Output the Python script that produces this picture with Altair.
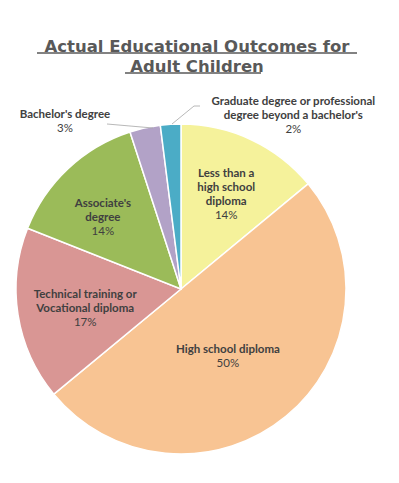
import altair as alt
import pandas as pd

categories = [
    "Less than a high school diploma",
    "High school diploma",
    "Technical training or Vocational diploma",
    "Associate's degree",
    "Bachelor's degree",
    "Graduate degree or professional degree beyond a bachelor's",
]
label_lines = [
    "Less than a\nhigh school\ndiploma",
    "High school diploma",
    "Technical training or\nVocational diploma",
    "Associate's\ndegree",
    "Bachelor's degree",
    "Graduate degree or professional\ndegree beyond a bachelor's",
]
values = [14, 50, 17, 14, 3, 2]
order = [1, 2, 3, 4, 5, 6]
colors = ["#F5F29B", "#F8C493", "#D99694", "#9BBB59", "#B2A2C7", "#4BACC6"]

df = pd.DataFrame({"category": categories, "label": label_lines,
                   "value": values, "order": order})

sc = alt.Scale(domain=[0, 100])

base = alt.Chart(df).transform_window(
    cum="sum(value)", frame=[None, 0], sort=[alt.SortField("order")]
).transform_calculate(
    start="datum.cum - datum.value",
    mid="datum.cum - datum.value / 2",
    pct="datum.value + '%'",
)

arcs = base.mark_arc(radius=165, stroke="white", strokeWidth=1.5).encode(
    theta=alt.Theta("start:Q", scale=sc),
    theta2="cum:Q",
    color=alt.Color("category:N", scale=alt.Scale(domain=categories, range=colors), legend=None),
)

TXT = "#404040"
FONT = "Lato"
FS = 11.5
LH = 14

# label placement style: radius, dx, dy (anchor = boundary between name and percent)
label_style = {
    categories[0]: (92, 6, 3),
    categories[1]: (83, -6, 4),
    categories[2]: (97, 0, 12),
    categories[3]: (101, -9, 10),
    categories[4]: (170, -79, -1),
    categories[5]: (170, 123, 4),
}

layers = [arcs]
for cat, lab, (r, dx, dy) in zip(categories, label_lines, label_style.values()):
    n = lab.count("\n") + 1
    sub = base.transform_filter(alt.datum.category == cat)
    layers.append(sub.mark_text(radius=r, dx=dx, dy=dy - n * LH + 1, baseline="top", align="center",
                                lineBreak="\n", font=FONT, fontSize=FS, fontWeight="bold",
                                color=TXT, lineHeight=LH).encode(
        theta=alt.Theta("mid:Q", scale=sc), text="label:N"))
    layers.append(sub.mark_text(radius=r, dx=dx, dy=dy + 1, baseline="top", align="center",
                                font=FONT, fontSize=FS, fontWeight="normal",
                                color=TXT).encode(
        theta=alt.Theta("mid:Q", scale=sc), text="pct:N"))

one = alt.Chart(alt.Data(values=[{}]))
# title underlines
layers.append(one.mark_rule(color="#595959", strokeWidth=1.5).encode(
    x=alt.value(29), x2=alt.value(349), y=alt.value(-55)))
layers.append(one.mark_rule(color="#595959", strokeWidth=1.5).encode(
    x=alt.value(117), x2=alt.value(253), y=alt.value(-35)))
# leader lines
layers.append(one.mark_rule(color="#A6A6A6", strokeWidth=0.8).encode(
    x=alt.value(99), x2=alt.value(145), y=alt.value(16), y2=alt.value(20)))
layers.append(one.mark_rule(color="#A6A6A6", strokeWidth=0.8).encode(
    x=alt.value(186), x2=alt.value(164), y=alt.value(-2), y2=alt.value(16)))
layers.append(one.mark_rule(color="#A6A6A6", strokeWidth=0.8).encode(
    x=alt.value(186), x2=alt.value(192), y=alt.value(-2)))

chart = alt.layer(*layers).properties(
    width=346, height=362,
    padding={"left": 0, "top": 100, "right": 37, "bottom": 0},
    autosize=alt.AutoSizeParams(type="none"),
    title=alt.TitleParams(
        text=["Actual Educational Outcomes for ", "Adult Children"],
        font="DejaVu Sans", fontSize=16.5, fontWeight="bold", color="#595959",
        anchor="middle", dx=16, offset=-23, lineHeight=20,
    ),
).configure(background="white", view=alt.ViewConfig(stroke=None))

chart.save("out.html", embed_options={"renderer": "svg", "actions": False})
